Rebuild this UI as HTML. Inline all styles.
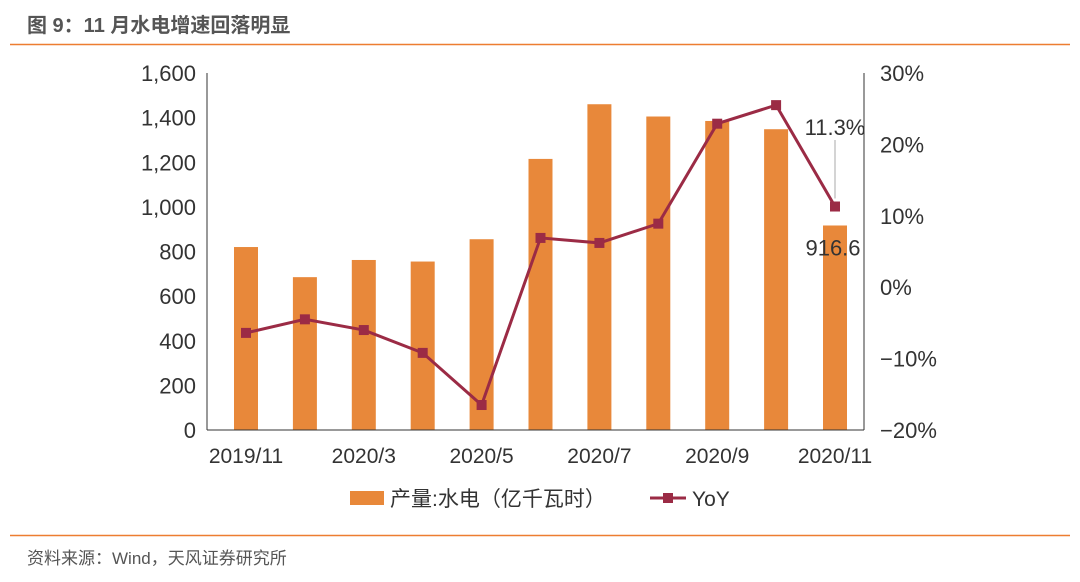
<!DOCTYPE html>
<html><head><meta charset="utf-8"><style>
body{margin:0;width:1080px;height:577px;background:#fff;overflow:hidden;font-family:"Liberation Sans","Noto Sans CJK SC",sans-serif;}
</style></head><body>
<svg id="c" width="1080" height="577" xmlns="http://www.w3.org/2000/svg">
<text x="27" y="32" font-size="20" font-weight="bold" fill="#555" font-family="Liberation Sans, Noto Sans CJK SC, sans-serif">图 9：11 月水电增速回落明显</text>
<line x1="10" y1="44.5" x2="1070" y2="44.5" stroke="#ED7D31" stroke-width="1.5"/>
<line x1="10" y1="535.5" x2="1070" y2="535.5" stroke="#ED7D31" stroke-width="1.5"/>
<text x="27" y="564" font-size="17" fill="#555" font-family="Liberation Sans, Noto Sans CJK SC, sans-serif">资料来源：Wind，天风证券研究所</text>
<g id="plot"></g>
</svg>
<script>
const categories=["2019/11","2019/12","2020/3","2020/4","2020/5","2020/6","2020/7","2020/8","2020/9","2020/10","2020/11"];
const output=[820,685,762,755,855,1215,1460,1405,1385,1348,916.6];
const yoy=[-6.4,-4.5,-6.0,-9.2,-16.5,6.9,6.2,8.9,22.9,25.5,11.3];
const leftTicks=[0,200,400,600,800,1000,1200,1400,1600];
const rightTicks=[-20,-10,0,10,20,30];
const NS="http://www.w3.org/2000/svg";
const g=document.getElementById('plot');
const X0=207,X1=864,Y0=430,Y1=73;
const FIRST=246,LAST=835;
const step=(LAST-FIRST)/(categories.length-1);
const xc=i=>FIRST+step*i;
const yl=v=>Y0-(v/1600)*(Y0-Y1);
const yr=v=>Y0-((v+20)/50)*(Y0-Y1);
function el(t,a,txt){const e=document.createElementNS(NS,t);for(const k in a)e.setAttribute(k,a[k]);if(txt!=null)e.textContent=txt;g.appendChild(e);return e;}
const F="Liberation Sans, Noto Sans CJK SC, sans-serif";
leftTicks.forEach(v=>{const t=el('text',{x:196,y:yl(v)+8,'font-size':22,fill:'#333','text-anchor':'end','font-family':F},v.toLocaleString('en-US'));

});
rightTicks.forEach(v=>{const t=el('text',{x:880,y:yr(v)+8,'font-size':22,fill:'#333','font-family':F},(v<0?'−':'')+Math.abs(v)+'%');

});
output.forEach((v,i)=>{const b=el('rect',{x:xc(i)-12,y:yl(v),width:24,height:Y0-yl(v),fill:'#E8883A'});

});
let a=el('line',{x1:X0,y1:Y1,x2:X0,y2:Y0,stroke:'#333','stroke-width':1});


a=el('line',{x1:X1,y1:Y1,x2:X1,y2:Y0,stroke:'#333','stroke-width':1});


a=el('line',{x1:X0,y1:Y0,x2:X1,y2:Y0,stroke:'#333','stroke-width':1});


categories.forEach((c,i)=>{if(i%2===0){const t=el('text',{x:xc(i),y:463,'font-size':21,fill:'#333','text-anchor':'middle','font-family':F},c);

}});
const pl=el('polyline',{points:yoy.map((v,i)=>xc(i)+','+yr(v)).join(' '),fill:'none',stroke:'#9B2B45','stroke-width':3});


yoy.forEach((v,i)=>{const m=el('rect',{x:xc(i)-5,y:yr(v)-5,width:10,height:10,fill:'#9B2B45'});

});
const n=categories.length-1;
let c=el('line',{x1:xc(n),y1:yr(yoy[n])-8,x2:xc(n),y2:140,stroke:'#aaa','stroke-width':1});


c=el('text',{x:xc(n),y:135,'font-size':22,fill:'#333','text-anchor':'middle','font-family':F},yoy[n]+'%');


c=el('text',{x:xc(n)-2,y:yl(output[n])+30,'font-size':22,fill:'#333','text-anchor':'middle','font-family':F},String(output[n]));


let l=el('rect',{x:350,y:491,width:34,height:14,fill:'#E8883A'});


l=el('text',{x:390,y:506,'font-size':21,fill:'#333','font-family':F},'产量:水电（亿千瓦时）');


l=el('line',{x1:650,y1:498,x2:686,y2:498,stroke:'#9B2B45','stroke-width':3});


l=el('rect',{x:663,y:493,width:10,height:10,fill:'#9B2B45'});


l=el('text',{x:692,y:506,'font-size':21,fill:'#333','font-family':F},'YoY');


</script>
</body></html>
